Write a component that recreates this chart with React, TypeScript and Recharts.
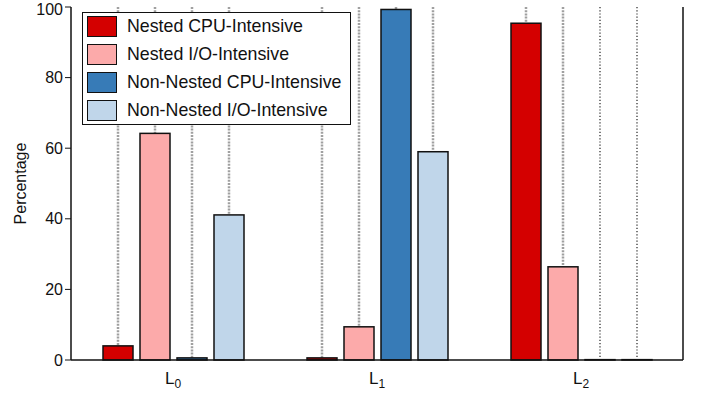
import { Bar, BarChart, Legend, XAxis, YAxis } from 'recharts';

const levels = ['0', '1', '2'];
const nestedCpu = [4.0, 0.6, 95.4];
const nestedIo = [64.2, 9.4, 26.4];
const plainCpu = [0.6, 99.3, 0.1];
const plainIo = [41.1, 59.0, 0.1];
const yTicks = [0, 20, 40, 60, 80, 100];

const series = [
  { key: 'nestedCpu', name: 'Nested CPU-Intensive', color: '#d40000' },
  { key: 'nestedIo', name: 'Nested I/O-Intensive', color: '#fcaaaa' },
  { key: 'plainCpu', name: 'Non-Nested CPU-Intensive', color: '#377bb7' },
  { key: 'plainIo', name: 'Non-Nested I/O-Intensive', color: '#c0d6ea' },
];

const data = levels.map((lvl, i) => ({
  level: lvl,
  nestedCpu: nestedCpu[i],
  nestedIo: nestedIo[i],
  plainCpu: plainCpu[i],
  plainIo: plainIo[i],
}));

const font = '"Liberation Sans", Arial, sans-serif';

// bar with the dotted guide line running behind it, full plot height
function GuideBar(props: any) {
  const { x, y, width, height, fill, value, background } = props;
  const cx = x + width / 2;
  const top = background ? background.y : 7;
  const bottom = background ? background.y + background.height : y + height;
  const tiny = Number(value) < 0.5;
  return (
    <g>
      <line
        x1={cx}
        x2={cx}
        y1={top}
        y2={bottom}
        stroke={tiny ? '#222' : '#a0a0a0'}
        strokeWidth={tiny ? 1.2 : 2.5}
        strokeDasharray={tiny ? '1.2 2' : '2 1.2'}
      />
      <rect x={x} y={y} width={width} height={Math.max(height, 0)} fill={fill} stroke="#111" strokeWidth={1.5} />
    </g>
  );
}

function LevelTick({ x, y, payload }: any) {
  return (
    <text x={x} y={y + 16} textAnchor="middle" fontFamily={font} fill="#111">
      <tspan fontSize={17}>L</tspan>
      <tspan fontSize={12} dy={4}>{payload.value}</tspan>
    </text>
  );
}

function LegendBox() {
  return (
    <div
      style={{
        width: 267,
        height: 111,
        border: '1.5px solid #111',
        background: '#fff',
        fontFamily: font,
        fontSize: 17.8,
        color: '#111',
        boxSizing: 'content-box',
        position: 'relative',
      }}
    >
      {series.map((s, i) => (
        <div key={s.key} style={{ position: 'absolute', left: 4, top: 3 + i * 28, height: 21, display: 'flex', alignItems: 'center' }}>
          <span style={{ width: 28, height: 19, background: s.color, border: '1px solid #111', display: 'inline-block' }} />
          <span style={{ marginLeft: 10, whiteSpace: 'nowrap' }}>{s.name}</span>
        </div>
      ))}
    </div>
  );
}

export default function App() {
  return (
    <div style={{ position: 'absolute', left: 0, top: 0, width: 702, height: 395, background: '#fff' }}>
      <BarChart
        width={702}
        height={395}
        data={data}
        margin={{ top: 7, right: 0, bottom: 0, left: 0 }}
        barSize={30}
        barGap={7}
      >
        <XAxis
          dataKey="level"
          xAxisId="b"
          height={35}
          axisLine={{ stroke: '#111', strokeWidth: 1.5 }}
          tickLine={false}
          tick={<LevelTick />}
        />
        <XAxis
          dataKey="level"
          xAxisId="t"
          orientation="top"
          height={0}
          axisLine={{ stroke: '#111', strokeWidth: 1.5 }}
          tickLine={{ stroke: '#111' }}
          tickSize={-4}
          tick={false}
        />
        <YAxis
          yAxisId="l"
          width={71}
          domain={[0, 100]}
          ticks={yTicks}
          axisLine={{ stroke: '#111', strokeWidth: 1.5 }}
          tickLine={{ stroke: '#111' }}
          tickSize={6}
          tickMargin={2}
          tick={{ fill: '#111', fontSize: 16, fontFamily: font }}
          label={{
            value: 'Percentage',
            angle: -90,
            position: 'insideLeft',
            offset: 20,
            style: { fill: '#111', fontSize: 16, fontFamily: font, textAnchor: 'middle' },
          }}
        />
        <YAxis
          yAxisId="r"
          orientation="right"
          width={19}
          domain={[0, 100]}
          ticks={yTicks}
          axisLine={{ stroke: '#111', strokeWidth: 1.5 }}
          tickLine={{ stroke: '#111' }}
          tickSize={-7}
          tick={false}
        />
        <Legend
          layout="vertical"
          align="center"
          verticalAlign="middle"
          content={<LegendBox />}
          wrapperStyle={{ position: 'absolute', left: 82, top: 12, width: 'auto', height: 'auto' }}
        />
        {series.map((s) => (
          <Bar
            key={s.key}
            dataKey={s.key}
            name={s.name}
            fill={s.color}
            xAxisId="b"
            yAxisId="l"
            shape={<GuideBar />}
            isAnimationActive={false}
          />
        ))}
      </BarChart>
    </div>
  );
}
